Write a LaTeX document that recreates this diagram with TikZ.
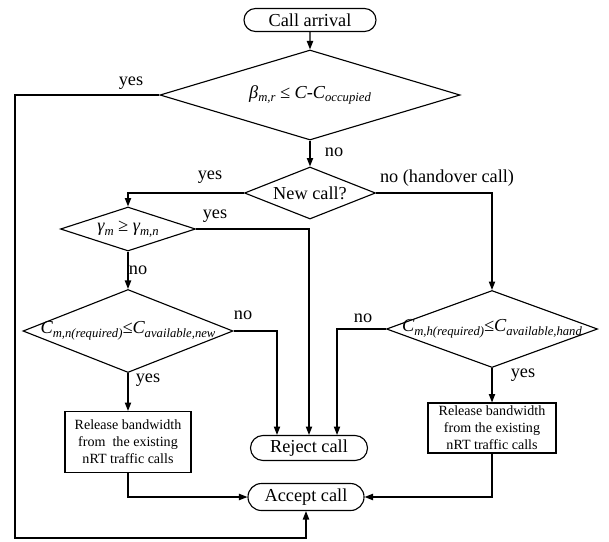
\documentclass[tikz,border=0pt]{standalone}
\usepackage{fontspec}
\setmainfont{Liberation Serif}
\usetikzlibrary{shapes.geometric,shapes.misc,arrows.meta}
\newcommand{\sbs}[1]{\raisebox{-2.6pt}{\fontsize{9}{9}\selectfont\itshape #1}}
\tikzset{
  term/.style={rounded rectangle, draw, inner sep=0pt, font=\fontsize{13}{15}\selectfont},
  decision/.style={diamond, draw, inner sep=0pt, font=\fontsize{13}{15}\selectfont},
  procbox/.style={rectangle, draw, inner sep=0pt, align=center, font=\fontsize{10}{12}\selectfont},
  flow/.style={-{Triangle[length=6pt,width=4.5pt]}},
  lbl/.style={font=\fontsize{13}{15}\selectfont}
}
\begin{document}
\begin{tikzpicture}[x=0.025cm, y=-0.025cm, line width=0.8pt]
  \useasboundingbox (0,0) rectangle (609,541);
  % start and end terminals
  \node[term, minimum width=3.3cm, minimum height=0.575cm] (arrival) at (310,20) {Call arrival};
  \node[term, minimum width=2.925cm, minimum height=0.625cm] (reject) at (309,448) {Reject call};
  \node[term, minimum width=2.9cm, minimum height=0.675cm] (accept) at (306,497) {Accept call};
  % decisions
  \node[decision, minimum width=7.5cm, minimum height=2.25cm] (bwchk) at (310,95)
    {\makebox[0pt]{\itshape β\sbs{m,r} ≤ C-C\sbs{occupied}}};
  \node[decision, minimum width=3.275cm, minimum height=1.3cm] (newcall) at (310,193)
    {\makebox[0pt]{New call?}};
  \node[decision, minimum width=3.375cm, minimum height=1.1cm] (gamma) at (128,229)
    {\makebox[0pt]{\itshape γ\sbs{m} ≥ γ\sbs{m,n}}};
  \node[decision, minimum width=5.25cm, minimum height=2.075cm] (cnew) at (128,331)
    {\makebox[0pt]{\itshape C\sbs{m,n(required)}≤C\sbs{available,new}}};
  \node[decision, minimum width=5.275cm, minimum height=1.925cm] (chand) at (492,329)
    {\makebox[0pt]{\itshape C\sbs{m,h(required)}≤C\sbs{available,hand}}};
  % bandwidth release boxes
  \node[procbox, minimum width=3.15cm, minimum height=1.525cm] (relnew) at (128,442)
    {Release bandwidth\\from\ \ the existing\\nRT traffic calls};
  \node[procbox, minimum width=3.2cm, minimum height=1.25cm] (relhand) at (492,428)
    {Release bandwidth\\from the existing\\nRT traffic calls};
  % connectors
  \coordinate (loopcorner) at (15,538);
  \draw[flow] (arrival) -- (bwchk);
  \draw[flow] (bwchk.west) -| (loopcorner) -| (accept.south);
  \draw[flow] (bwchk.south) -- (newcall.north);
  \draw[flow] (newcall.west) -| (gamma.north);
  \draw[flow] (newcall.east) -| (chand.north);
  \draw[flow] (gamma.east) -| (reject.north);
  \draw[flow] (gamma.south) -- (cnew.north);
  \draw[flow] (cnew.east) -| ([xshift=-0.8cm]reject.north);
  \draw[flow] (cnew.south) -- (relnew.north);
  \draw[flow] (chand.west) -| ([xshift=0.7cm]reject.north);
  \draw[flow] (chand.south) -- (relhand.north);
  \draw[flow] (relnew.south) |- (accept.west);
  \draw[flow] (relhand.south) |- (accept.east);
  % branch labels
  \node[lbl] (yesbw) at (131,83) {yes};
  \node[lbl] (nobw) at (334,152) {no};
  \node[lbl] (yesnew) at (210,177) {yes};
  \node[lbl] (nohand) at (447,178) {no (handover call)};
  \node[lbl] (yesgam) at (215,216) {yes};
  \node[lbl] (nogam) at (138,270) {no};
  \node[lbl] (nocnew) at (243,315) {no};
  \node[lbl] (yescnew) at (148,380) {yes};
  \node[lbl] (nochand) at (363,318) {no};
  \node[lbl] (yeschand) at (523,375) {yes};
\end{tikzpicture}
\end{document}
